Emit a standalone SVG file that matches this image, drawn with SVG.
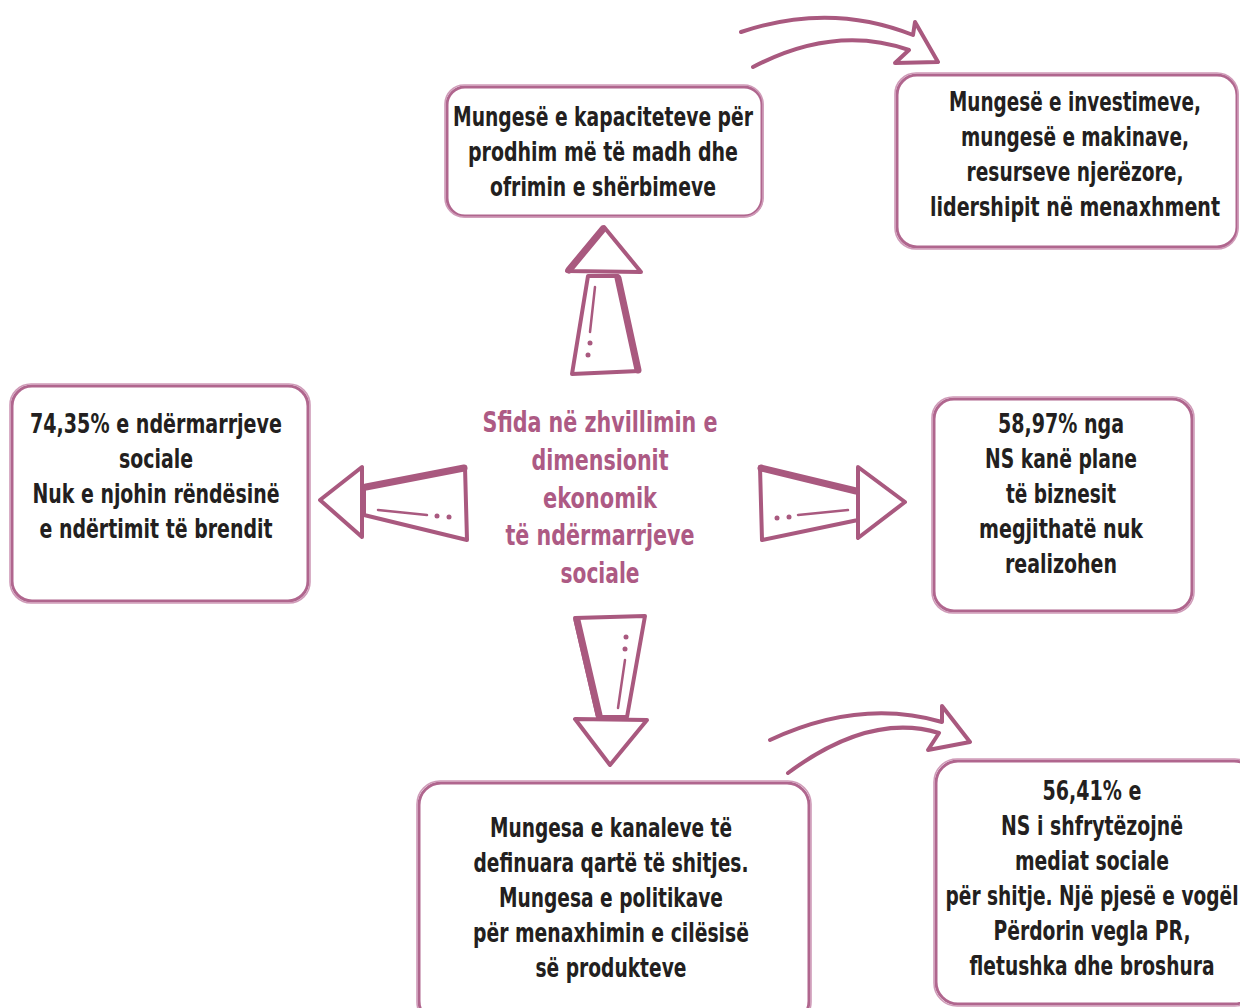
<svg xmlns="http://www.w3.org/2000/svg" width="1240" height="1008" viewBox="0 0 1240 1008">
<style>
.box{fill:#ffffff;stroke:#b0668e;stroke-width:3}
.box2{fill:none;stroke:#cf9bb8;stroke-width:1.6}
.t{font-family:"Liberation Sans Narrow","DejaVu Sans Condensed","Roboto",sans-serif;font-weight:bold;font-size:26px;fill:#231f20;text-anchor:middle}
.c{font-family:"Liberation Sans Narrow","DejaVu Sans Condensed","Roboto",sans-serif;font-weight:bold;font-size:28px;fill:#ad5a84;text-anchor:middle}
.ar{fill:#ffffff;stroke:#a9597f;stroke-width:4;stroke-linejoin:round;stroke-linecap:round}
.thk{fill:none;stroke:#a9597f;stroke-width:7;stroke-linecap:round}
.ln{fill:none;stroke:#a9597f;stroke-width:2.5;stroke-linecap:round}
.dot{fill:#a9597f}
.cv{fill:none;stroke:#a9597f;stroke-width:4;stroke-linecap:round;stroke-linejoin:round}
</style>
<rect width="1240" height="1008" fill="#ffffff"/>
<g id="connectors">
  <polygon class="ar" points="604,227 567,271 641,272"/>
  <line class="thk" x1="603" y1="229" x2="569" y2="270" stroke-width="5"/>
  <polygon class="ar" points="588,276 618,276 639,371 572,374"/>
  <line class="thk" x1="618" y1="278" x2="638" y2="370"/>
  <line class="ln" x1="595" y1="287" x2="590" y2="332"/>
  <circle class="dot" cx="590" cy="343" r="2.5"/>
  <circle class="dot" cx="588" cy="355" r="2.5"/>
  <polygon class="ar" points="320,500 362,467 362,537"/>
  <polygon class="ar" points="364,488 465,467 467,540 364,515"/>
  <line class="thk" x1="366" y1="487" x2="464" y2="468"/>
  <line class="ln" x1="378" y1="510" x2="427" y2="515"/>
  <circle class="dot" cx="437" cy="516" r="2.5"/>
  <circle class="dot" cx="449" cy="517" r="2.5"/>
  <polygon class="ar" points="760,467 858,492 858,520 762,540"/>
  <line class="thk" x1="761" y1="468" x2="856" y2="491"/>
  <polygon class="ar" points="858,467 905,502 858,538"/>
  <line class="ln" x1="798" y1="515" x2="848" y2="510"/>
  <circle class="dot" cx="777" cy="518" r="2.5"/>
  <circle class="dot" cx="789" cy="517" r="2.5"/>
  <polygon class="ar" points="575,618 645,616 627,717 598,717"/>
  <line class="thk" x1="577" y1="620" x2="599" y2="715"/>
  <polygon class="ar" points="575,719 647,720 610,765"/>
  <line class="ln" x1="625" y1="660" x2="618" y2="708"/>
  <circle class="dot" cx="626" cy="637" r="2.5"/>
  <circle class="dot" cx="625" cy="649" r="2.5"/>
  <path class="cv" d="M741,32 Q830,2 913,35 L915,22 L938,62 L895,63 L909,50 Q835,24 753,67"/>
  <path class="cv" d="M770,740 Q860,698 942,722 L942,706 L970,742 L928,750 L939,733 Q870,712 788,773"/>
</g>
<g id="node-top">
  <rect class="box" x="447" y="87" width="315" height="129" rx="18"/>
  <rect class="box2" x="445" y="85" width="318" height="132" rx="19"/>
  <text class="t" x="603" y="126" textLength="300" lengthAdjust="spacingAndGlyphs">Mungesë e kapaciteteve për</text>
  <text class="t" x="603" y="161" textLength="270" lengthAdjust="spacingAndGlyphs">prodhim më të madh dhe</text>
  <text class="t" x="603" y="196" textLength="226" lengthAdjust="spacingAndGlyphs">ofrimin e shërbimeve</text>
</g>
<g id="node-top-right">
  <rect class="box" x="897" y="75" width="340" height="172" rx="20"/>
  <rect class="box2" x="895" y="73" width="343" height="176" rx="21"/>
  <text class="t" x="1075" y="111" textLength="252" lengthAdjust="spacingAndGlyphs">Mungesë e investimeve,</text>
  <text class="t" x="1075" y="146" textLength="228" lengthAdjust="spacingAndGlyphs">mungesë e makinave,</text>
  <text class="t" x="1075" y="181" textLength="217" lengthAdjust="spacingAndGlyphs">resurseve njerëzore,</text>
  <text class="t" x="1075" y="216" textLength="290" lengthAdjust="spacingAndGlyphs">lidershipit në menaxhment</text>
</g>
<g id="node-left">
  <rect class="box" x="12" y="386" width="296" height="215" rx="20"/>
  <rect class="box2" x="10" y="384" width="300" height="219" rx="21"/>
  <text class="t" x="156" y="433" textLength="252" lengthAdjust="spacingAndGlyphs">74,35% e ndërmarrjeve</text>
  <text class="t" x="156" y="468" textLength="74" lengthAdjust="spacingAndGlyphs">sociale</text>
  <text class="t" x="156" y="503" textLength="247" lengthAdjust="spacingAndGlyphs">Nuk e njohin rëndësinë</text>
  <text class="t" x="156" y="538" textLength="233" lengthAdjust="spacingAndGlyphs">e ndërtimit të brendit</text>
</g>
<g id="node-center">
  <text class="c" x="600" y="432" textLength="235" lengthAdjust="spacingAndGlyphs">Sfida në zhvillimin e</text>
  <text class="c" x="600" y="470" textLength="137" lengthAdjust="spacingAndGlyphs">dimensionit</text>
  <text class="c" x="600" y="508" textLength="114" lengthAdjust="spacingAndGlyphs">ekonomik</text>
  <text class="c" x="600" y="545" textLength="189" lengthAdjust="spacingAndGlyphs">të ndërmarrjeve</text>
  <text class="c" x="600" y="583" textLength="79" lengthAdjust="spacingAndGlyphs">sociale</text>
</g>
<g id="node-right">
  <rect class="box" x="934" y="399" width="258" height="212" rx="20"/>
  <rect class="box2" x="932" y="397" width="262" height="216" rx="21"/>
  <text class="t" x="1061" y="433" textLength="126" lengthAdjust="spacingAndGlyphs">58,97% nga</text>
  <text class="t" x="1061" y="468" textLength="152" lengthAdjust="spacingAndGlyphs">NS kanë plane</text>
  <text class="t" x="1061" y="503" textLength="110" lengthAdjust="spacingAndGlyphs">të biznesit</text>
  <text class="t" x="1061" y="538" textLength="164" lengthAdjust="spacingAndGlyphs">megjithatë nuk</text>
  <text class="t" x="1061" y="573" textLength="112" lengthAdjust="spacingAndGlyphs">realizohen</text>
</g>
<g id="node-bottom">
  <rect class="box" x="419" y="783" width="390" height="240" rx="22"/>
  <rect class="box2" x="417" y="781" width="394" height="244" rx="23"/>
  <text class="t" x="611" y="837" textLength="242" lengthAdjust="spacingAndGlyphs">Mungesa e kanaleve të</text>
  <text class="t" x="611" y="872" textLength="275" lengthAdjust="spacingAndGlyphs">definuara qartë të shitjes.</text>
  <text class="t" x="611" y="907" textLength="224" lengthAdjust="spacingAndGlyphs">Mungesa e politikave</text>
  <text class="t" x="611" y="942" textLength="276" lengthAdjust="spacingAndGlyphs">për menaxhimin e cilësisë</text>
  <text class="t" x="611" y="977" textLength="151" lengthAdjust="spacingAndGlyphs">së produkteve</text>
</g>
<g id="node-bottom-right">
  <rect class="box" x="936" y="761" width="320" height="243" rx="22"/>
  <rect class="box2" x="934" y="759" width="324" height="247" rx="23"/>
  <text class="t" x="1092" y="800" textLength="99" lengthAdjust="spacingAndGlyphs">56,41% e</text>
  <text class="t" x="1092" y="835" textLength="182" lengthAdjust="spacingAndGlyphs">NS i shfrytëzojnë</text>
  <text class="t" x="1092" y="870" textLength="154" lengthAdjust="spacingAndGlyphs">mediat sociale</text>
  <text class="t" x="1092" y="905" textLength="293" lengthAdjust="spacingAndGlyphs">për shitje. Një pjesë e vogël</text>
  <text class="t" x="1092" y="940" textLength="197" lengthAdjust="spacingAndGlyphs">Përdorin vegla PR,</text>
  <text class="t" x="1092" y="975" textLength="245" lengthAdjust="spacingAndGlyphs">fletushka dhe broshura</text>
</g>
</svg>
